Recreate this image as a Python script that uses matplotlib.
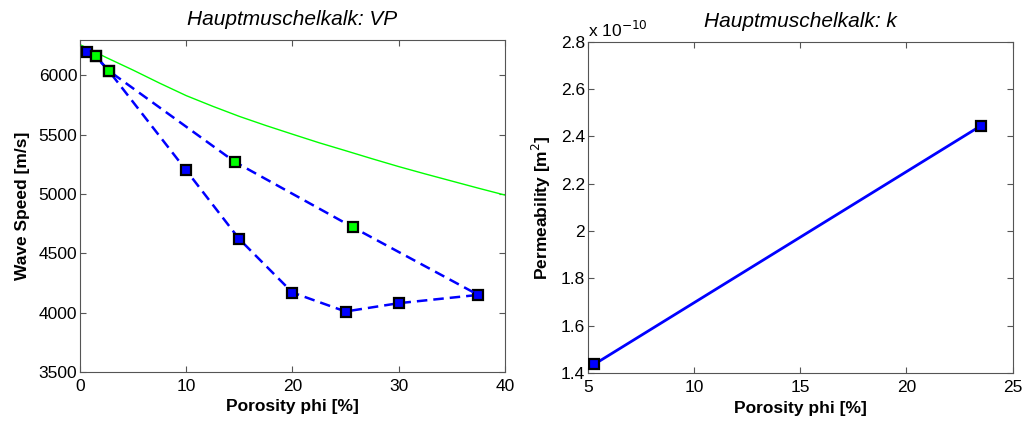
import numpy as np
import matplotlib
matplotlib.use("Agg")
import matplotlib.pyplot as plt
from matplotlib.ticker import FuncFormatter

plt.rcParams["font.family"] = ["Liberation Sans", "DejaVu Sans"]
plt.rcParams["font.size"] = 12.5

# left panel: VP vs porosity
phi_low = [0.7, 1.5, 2.7, 10, 15, 20, 25, 30, 37.5]
vp_low = [6195, 6160, 6040, 5200, 4620, 4170, 4010, 4080, 4150]
phi_up = [0.7, 1.5, 2.7, 14.6, 25.7, 37.5]
vp_up = [6195, 6160, 6040, 5270, 4720, 4150]
phi_curve = [0, 2.5, 5, 7.5, 10, 12.5, 15, 17.5, 20, 22.5, 25, 27.5, 30,
             32.5, 35, 37.5, 40]
vp_curve = [6260, 6150, 6045, 5935, 5830, 5740, 5655, 5578, 5505, 5433,
            5366, 5298, 5232, 5170, 5110, 5050, 4992]

# right panel: permeability
phi_k = [5.3, 23.5]
perm_k = [1.437e-10, 2.445e-10]

BLUE = "#0000ff"
GREEN = "#00ff00"
AXCOL = "#555555"
FS = 12.5


def style_axes(ax):
    for s in ax.spines.values():
        s.set_color(AXCOL)
        s.set_linewidth(0.8)
    ax.tick_params(direction="in", top=True, right=True, length=4,
                   color=AXCOL, labelsize=FS)
    ax.tick_params(axis="x", pad=5)
    ax.tick_params(axis="y", pad=2)


fig = plt.figure(figsize=(10.26, 4.22), dpi=100)
ax1 = fig.add_axes([0.078, 0.1185, 0.414, 0.787])
ax2 = fig.add_axes([0.573, 0.116, 0.414, 0.785])

ax1.plot(phi_curve, vp_curve, "-", color=GREEN, lw=1.0, zorder=2)
ax1.plot(phi_low, vp_low, "--s", color=BLUE, lw=1.8, dashes=(4.2, 2.4),
         ms=7.5, mfc=BLUE, mec="black", mew=1.6, zorder=3)
ax1.plot(phi_up, vp_up, "--s", color=BLUE, lw=1.8, dashes=(4.2, 2.4),
         ms=7.5, mfc=GREEN, mec="black", mew=1.6, markevery=[1, 2, 3, 4],
         zorder=4)
ax1.set_xlim(0, 40)
ax1.set_ylim(3500, 6300)
ax1.set_xticks([0, 10, 20, 30, 40])
ax1.set_yticks([3500, 4000, 4500, 5000, 5500, 6000])
style_axes(ax1)
ax1.set_xlabel("Porosity phi [%]", fontweight="bold", fontsize=FS, labelpad=4)
ax1.set_ylabel("Wave Speed [m/s]", fontweight="bold", fontsize=FS, labelpad=6)
ax1.set_title("Hauptmuschelkalk: VP", fontstyle="italic", fontsize=15, pad=11)

ax2.plot(phi_k, perm_k, "-s", color=BLUE, lw=2.0, ms=7.5, mfc=BLUE,
         mec="black", mew=1.6, zorder=3)
ax2.set_xlim(5, 25)
ax2.set_ylim(1.4e-10, 2.8e-10)
ax2.set_xticks([5, 10, 15, 20, 25])
ax2.set_yticks(np.arange(1.4, 2.81, 0.2) * 1e-10)
ax2.yaxis.set_major_formatter(FuncFormatter(lambda v, p: "%g" % round(v / 1e-10, 2)))
style_axes(ax2)
ax2.text(0.0, 1.005, "x 10$^{-10}$", transform=ax2.transAxes, fontsize=FS,
         ha="left", va="bottom")
ax2.set_xlabel("Porosity phi [%]", fontweight="bold", fontsize=FS, labelpad=4)
ax2.set_ylabel("Permeability [m$^2$]", fontweight="bold", fontsize=FS, labelpad=6)
ax2.set_title("Hauptmuschelkalk: k", fontstyle="italic", fontsize=15, pad=11)

fig.savefig("out.png", dpi=100)
